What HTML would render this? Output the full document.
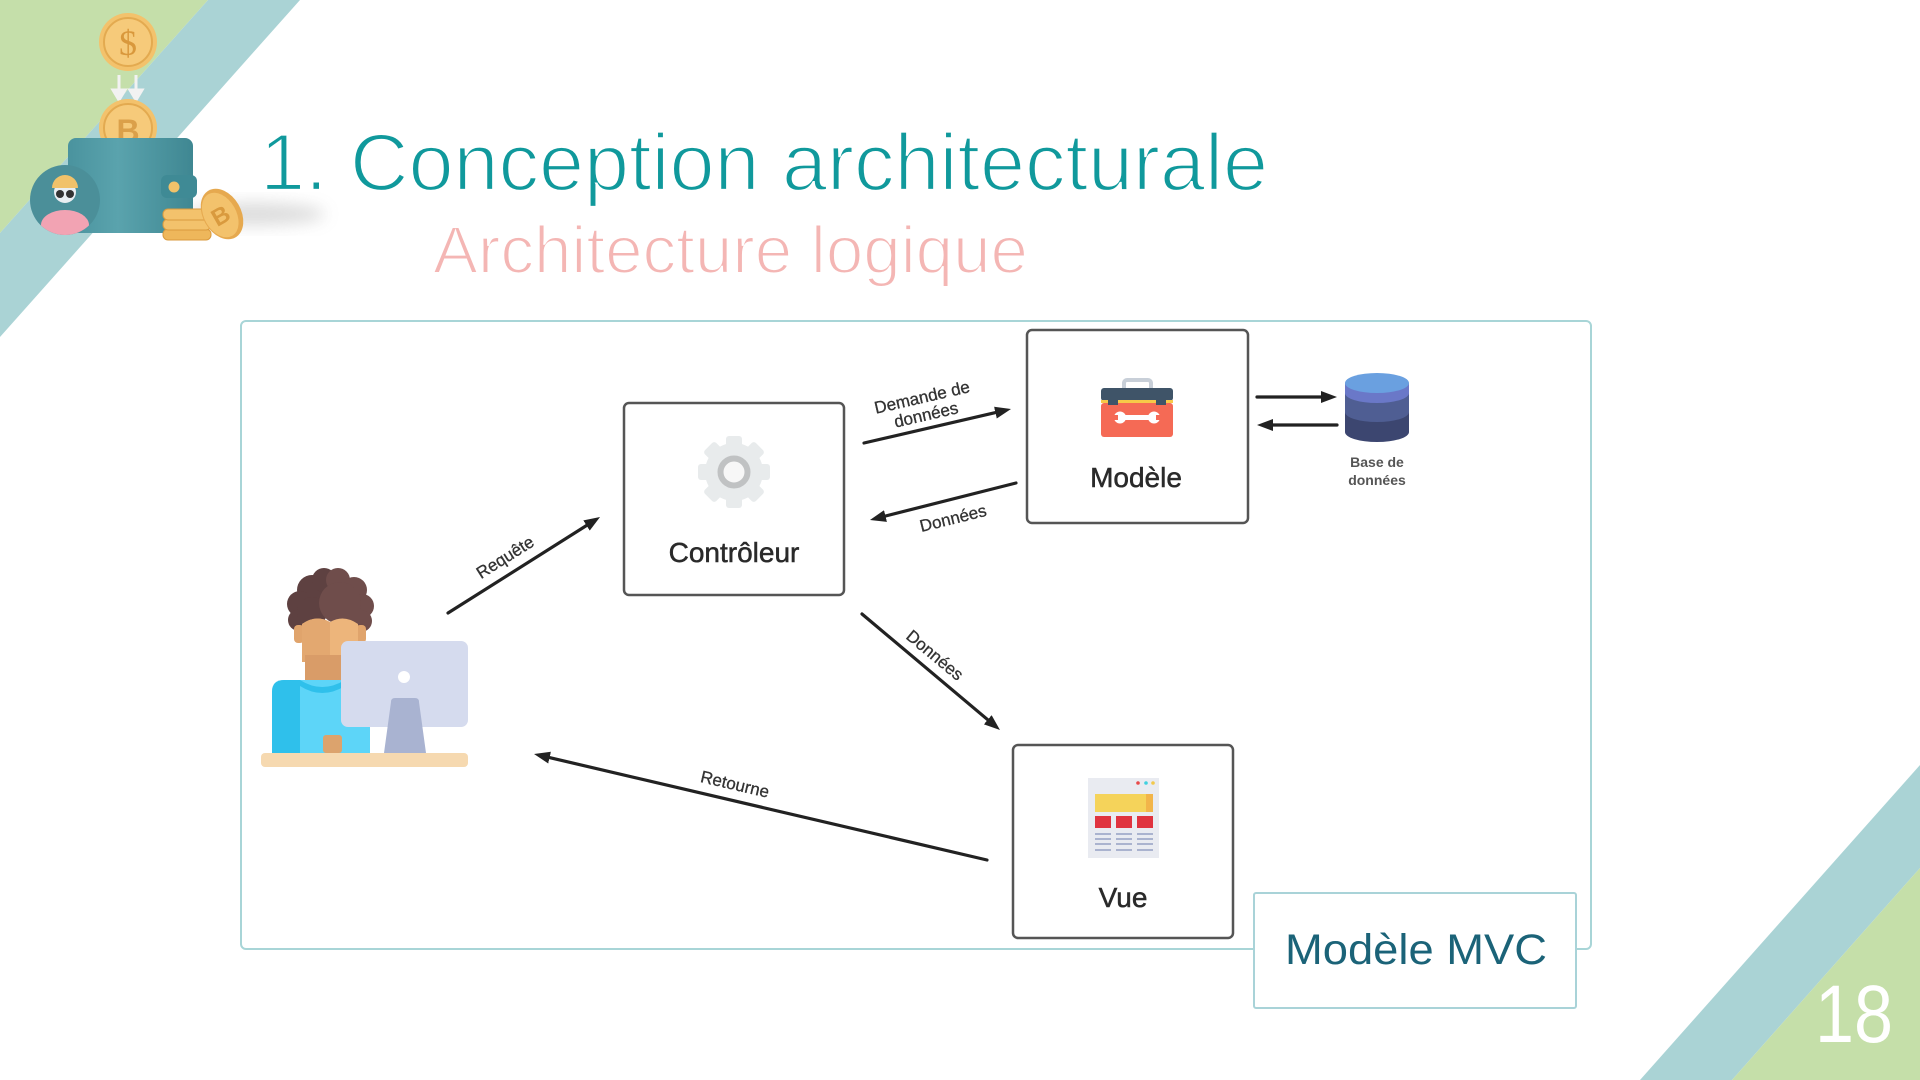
<!DOCTYPE html>
<html><head><meta charset="utf-8">
<style>
html,body{margin:0;padding:0;background:#fff;}
svg{display:block;}
</style></head>
<body>
<svg width="1920" height="1080" viewBox="0 0 1920 1080" xmlns="http://www.w3.org/2000/svg">
<defs>
  <marker id="ah" markerWidth="16" markerHeight="12" refX="4" refY="6" orient="auto" markerUnits="userSpaceOnUse">
    <path d="M0,0 L16,6 L0,12 z" fill="#222"/>
  </marker>
  <filter id="blur" x="-50%" y="-50%" width="200%" height="200%"><feGaussianBlur stdDeviation="8"/></filter>
  <linearGradient id="wal" x1="0" y1="0" x2="1" y2="0">
    <stop offset="0" stop-color="#4a939e"/><stop offset="0.4" stop-color="#5aa3ad"/><stop offset="1" stop-color="#3f8792"/>
  </linearGradient>
  <clipPath id="avc"><circle cx="65" cy="200" r="35"/></clipPath>
</defs>

<!-- corner decorations -->
<polygon points="0,0 208,0 0,233" fill="#c5dfaa"/>
<polygon points="208,0 300,0 0,337 0,233" fill="#aad3d5"/>
<polygon points="1920,765 1920,868 1732,1080 1640,1080" fill="#aad3d5"/>
<polygon points="1920,868 1920,1080 1732,1080" fill="#c5dfa9"/>
<text x="1815" y="1042" font-family="Liberation Sans, sans-serif" font-size="82" fill="#fff" textLength="78" lengthAdjust="spacingAndGlyphs">18</text>

<!-- wallet illustration -->
<ellipse cx="255" cy="214" rx="70" ry="11" fill="#9a9a9a" opacity="0.35" filter="url(#blur)"/>
<circle cx="128" cy="42" r="29" fill="#f3c26c"/>
<circle cx="128" cy="42" r="24" fill="#f6ca7a" stroke="#e3aa50" stroke-width="2"/>
<text x="128" y="55" text-anchor="middle" font-family="Liberation Serif, serif" font-size="36" fill="#d9983c">$</text>
<g stroke="#f2f2f2" stroke-width="3" fill="#f2f2f2">
  <line x1="119" y1="75" x2="119" y2="92"/><polygon points="113,90 125,90 119,100"/>
  <line x1="136" y1="75" x2="136" y2="92"/><polygon points="130,90 142,90 136,100"/>
</g>
<circle cx="128" cy="128" r="29" fill="#f3c26c"/>
<circle cx="128" cy="128" r="24" fill="#f6ca7a" stroke="#e3aa50" stroke-width="2"/>
<text x="128" y="142" text-anchor="middle" font-family="Liberation Sans, sans-serif" font-size="32" font-weight="bold" fill="#dba04a">B</text>
<rect x="68" y="138" width="125" height="95" rx="8" fill="url(#wal)"/>
<rect x="161" y="175" width="36" height="23" rx="6" fill="#3f8a95"/>
<circle cx="174" cy="187" r="5.5" fill="#f1c26a"/>
<circle cx="65" cy="200" r="35" fill="#4b8f99"/>
<g clip-path="url(#avc)">
  <ellipse cx="65" cy="225" rx="24" ry="15" fill="#f2a3b3"/>
</g>
<circle cx="65" cy="192" r="11" fill="#e9eef2"/>
<path d="M52,188 A13,13 0 0 1 78,188 Z" fill="#f1c26a"/>
<circle cx="60" cy="194" r="4" fill="#333"/><circle cx="70" cy="194" r="4" fill="#333"/>
<rect x="163" y="229" width="48" height="11" rx="5" fill="#eeb75b" stroke="#d99a3e" stroke-width="1"/>
<rect x="163" y="219" width="48" height="11" rx="5" fill="#f3c26c" stroke="#d99a3e" stroke-width="1"/>
<rect x="163" y="209" width="46" height="11" rx="5" fill="#f3c26c" stroke="#d99a3e" stroke-width="1"/>
<g transform="translate(222,214) rotate(-30)">
  <ellipse cx="0" cy="0" rx="19" ry="27" fill="#e6a94f"/>
  <ellipse cx="-2" cy="0" rx="16" ry="24" fill="#f3c26c"/>
  <text x="-2" y="9" text-anchor="middle" font-family="Liberation Sans, sans-serif" font-size="24" font-weight="bold" fill="#d99a3e">B</text>
</g>

<!-- titles (white stroke over fill to mimic a light weight) -->
<text x="260" y="190" font-family="Liberation Sans, sans-serif" font-size="81" fill="#10999c" stroke="#fff" stroke-width="2.2" textLength="1008" lengthAdjust="spacingAndGlyphs">1. Conception architecturale</text>
<text x="433" y="273" font-family="Liberation Sans, sans-serif" font-size="67" fill="#f4b6b4" stroke="#fff" stroke-width="2" textLength="595" lengthAdjust="spacingAndGlyphs">Architecture logique</text>

<!-- frame -->
<rect x="241" y="321" width="1350" height="628" rx="5" fill="none" stroke="#a8d5d7" stroke-width="2"/>

<!-- person -->
<g>
  <g fill="#5e4141">
    <circle cx="312" cy="590" r="15"/><circle cx="300" cy="604" r="13"/><circle cx="299" cy="620" r="11"/>
    <circle cx="324" cy="580" r="12"/><circle cx="312" cy="612" r="15"/>
  </g>
  <g fill="#6f4d4b">
    <circle cx="338" cy="580" r="12"/><circle cx="354" cy="590" r="13"/><circle cx="362" cy="606" r="12"/>
    <circle cx="361" cy="621" r="11"/><circle cx="340" cy="603" r="21"/>
  </g>
  <rect x="294" y="625" width="10" height="18" rx="4" fill="#e0a46c"/>
  <rect x="356" y="625" width="10" height="18" rx="4" fill="#e0a46c"/>
  <path d="M302,624 Q316,614 330,622 Q344,614 358,624 L358,662 L302,662 Z" fill="#edb57b"/>
  <path d="M302,624 Q316,614 330,622 L330,662 L302,662 Z" fill="#e3a870"/>
  <rect x="305" y="655" width="37" height="28" fill="#d99c68"/>
  <path d="M284,680 L370,680 L370,753 L272,753 L272,692 Q272,680 284,680 Z" fill="#5dd5f8"/>
  <path d="M284,680 L300,680 L300,753 L272,753 L272,692 Q272,680 284,680 Z" fill="#2fc0eb"/>
  <path d="M300,680 Q322,694 345,680 L345,686 Q322,700 300,686 Z" fill="#2fc0eb"/>
  <rect x="323" y="735" width="19" height="18" rx="3" fill="#dca36d"/>
  <rect x="341" y="641" width="127" height="86" rx="7" fill="#d5dbee"/>
  <circle cx="404" cy="677" r="6" fill="#fff"/>
  <path d="M395,698 L415,698 Q419,698 419,702 L426,753 L384,753 L391,702 Q391,698 395,698 Z" fill="#a9b3d1"/>
  <rect x="261" y="753" width="207" height="14" rx="4" fill="#f6d9b0"/>
</g>

<!-- boxes -->
<rect x="624" y="403" width="220" height="192" rx="5" fill="#fff" stroke="#555" stroke-width="2.5"/>
<rect x="1027" y="330" width="221" height="193" rx="5" fill="#fff" stroke="#555" stroke-width="2.5"/>
<rect x="1013" y="745" width="220" height="193" rx="5" fill="#fff" stroke="#555" stroke-width="2.5"/>

<!-- gear -->
<g transform="translate(734,472)">
  <g fill="#e8ebec">
    <circle r="29"/>
    <rect x="-8" y="-36" width="16" height="72" rx="3"/>
    <rect x="-8" y="-36" width="16" height="72" rx="3" transform="rotate(45)"/>
    <rect x="-8" y="-36" width="16" height="72" rx="3" transform="rotate(90)"/>
    <rect x="-8" y="-36" width="16" height="72" rx="3" transform="rotate(135)"/>
  </g>
  <circle r="13.5" fill="#f7f7f7" stroke="#c0c2c3" stroke-width="6"/>
</g>

<!-- toolbox -->
<rect x="1124" y="380" width="27" height="14" rx="3" fill="none" stroke="#c8cfd8" stroke-width="4"/>
<rect x="1101" y="403" width="72" height="34" rx="3" fill="#f56a55"/>
<rect x="1101" y="388" width="72" height="13" rx="3" fill="#3f5468"/>
<rect x="1101" y="400" width="72" height="3" fill="#f7c948"/>
<rect x="1108" y="400" width="10" height="5" fill="#3f5468"/>
<rect x="1156" y="400" width="10" height="5" fill="#3f5468"/>
<g fill="#fff">
  <rect x="1120" y="415" width="34" height="5" rx="1"/>
  <circle cx="1120" cy="417.5" r="6"/>
  <circle cx="1154" cy="417.5" r="6"/>
</g>
<rect x="1112" y="415" width="6" height="5" fill="#f56a55"/>
<rect x="1156" y="415" width="6" height="5" fill="#f56a55"/>

<!-- DB -->
<path d="M1345,383 L1345,432 A32,10 0 0 0 1409,432 L1409,383 Z" fill="#3c4670"/>
<path d="M1345,383 L1345,412 A32,10 0 0 0 1409,412 L1409,383 Z" fill="#4f5e93"/>
<path d="M1345,383 L1345,393 A32,10 0 0 0 1409,393 L1409,383 Z" fill="#6a78c8"/>
<ellipse cx="1377" cy="383" rx="32" ry="10" fill="#6aa0e0"/>
<g font-family="Liberation Sans, sans-serif" font-size="14" font-weight="bold" fill="#555" text-anchor="middle">
  <text x="1377" y="467">Base de</text>
  <text x="1377" y="485">données</text>
</g>

<!-- Vue icon -->
<rect x="1088" y="778" width="71" height="80" fill="#e9ebf1"/>
<circle cx="1138" cy="783" r="1.8" fill="#e84a4a"/>
<circle cx="1146" cy="783" r="1.8" fill="#3fd1e0"/>
<circle cx="1153" cy="783" r="1.8" fill="#f2c94c"/>
<rect x="1095" y="794" width="58" height="18" fill="#f5d35a"/>
<rect x="1146" y="794" width="7" height="18" fill="#f2b54a"/>
<g fill="#e0333f">
  <rect x="1095" y="816" width="16" height="12"/>
  <rect x="1116" y="816" width="16" height="12"/>
  <rect x="1137" y="816" width="16" height="12"/>
</g>
<g fill="#aab3cf">
  <rect x="1095" y="833" width="16" height="2"/><rect x="1116" y="833" width="16" height="2"/><rect x="1137" y="833" width="16" height="2"/>
  <rect x="1095" y="838" width="16" height="2"/><rect x="1116" y="838" width="16" height="2"/><rect x="1137" y="838" width="16" height="2"/>
  <rect x="1095" y="843" width="16" height="2"/><rect x="1116" y="843" width="16" height="2"/><rect x="1137" y="843" width="16" height="2"/>
  <rect x="1095" y="849" width="16" height="2"/><rect x="1116" y="849" width="16" height="2"/><rect x="1137" y="849" width="16" height="2"/>
</g>

<!-- box labels -->
<g font-family="Liberation Sans, sans-serif" font-size="28" fill="#2a2a2a" stroke="#2a2a2a" stroke-width="0.5" text-anchor="middle">
  <text x="734" y="562">Contrôleur</text>
  <text x="1136" y="487">Modèle</text>
  <text x="1123" y="907">Vue</text>
</g>

<!-- arrows -->
<g stroke="#222" stroke-width="3.2" fill="none" marker-end="url(#ah)" stroke-linecap="round">
  <line x1="448" y1="613" x2="589.9" y2="523.4"/>
  <line x1="864" y1="443" x2="999.3" y2="411.7"/>
  <line x1="1016" y1="483" x2="881.6" y2="517"/>
  <line x1="1257" y1="397" x2="1325" y2="397"/>
  <line x1="1337" y1="425" x2="1269" y2="425"/>
  <line x1="862" y1="614" x2="990.8" y2="722.3"/>
  <line x1="987" y1="860" x2="545.7" y2="756.7"/>
</g>

<!-- arrow labels -->
<g font-family="Liberation Sans, sans-serif" font-size="17" fill="#333" stroke="#333" stroke-width="0.3" text-anchor="middle">
  <text transform="translate(505,557) rotate(-32.3)" dy="6">Requête</text>
  <text transform="translate(922,397) rotate(-13)" dy="6">Demande de</text>
  <text transform="translate(926,414.5) rotate(-13)" dy="6">données</text>
  <text transform="translate(953,518) rotate(-14)" dy="6">Données</text>
  <text transform="translate(935,655) rotate(39.6)" dy="6">Données</text>
  <text transform="translate(735,784) rotate(13.2)" dy="6">Retourne</text>
</g>

<!-- MVC label -->
<rect x="1254" y="893" width="322" height="115" rx="2" fill="#fff" stroke="#a9d3d8" stroke-width="2"/>
<text x="1285" y="964" font-family="Liberation Sans, sans-serif" font-size="43" fill="#1b6378" textLength="262" lengthAdjust="spacingAndGlyphs">Modèle MVC</text>
</svg>
</body></html>
